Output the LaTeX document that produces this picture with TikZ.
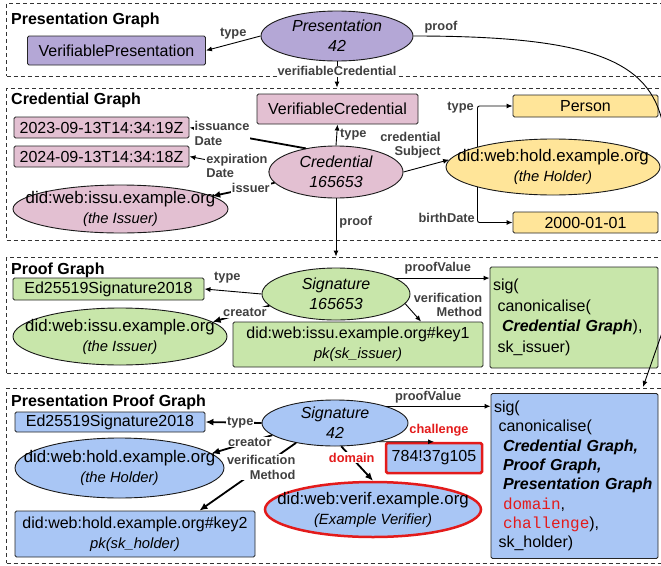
\documentclass[tikz,border=0pt]{standalone}
\usepackage{fontspec}
\setmainfont{Liberation Sans}
\setmonofont{Liberation Mono}
\usetikzlibrary{shapes.geometric, arrows.meta, positioning}

\definecolor{vpfill}{HTML}{B4A7D6}
\definecolor{credfill}{HTML}{E3C0D2}
\definecolor{holderfill}{HTML}{FFE599}
\definecolor{prooffill}{HTML}{C8E6AA}
\definecolor{ppfill}{HTML}{A9C6F5}
\definecolor{redcol}{HTML}{E31B1B}
\definecolor{lblgray}{HTML}{404040}

\newcommand\smallit[1]{{\fontsize{14.8}{17}\selectfont\itshape #1}}
\newcommand\bfit[1]{\textbf{\textit{#1}}}
\newcommand\redtt[1]{\textcolor{redcol}{\texttt{#1}}}
\newcommand\indsp{\hspace*{4.5pt}}

\begin{document}
\begin{tikzpicture}[
        x=1pt, y=-1pt,
        every node/.style={font=\fontsize{16}{20}\selectfont, align=center, inner sep=0pt},
        box/.style={rectangle, draw=black!85, rounded corners=1.5pt, line width=0.9pt},
        ell/.style={ellipse, draw=black!90, line width=0.9pt, inner xsep=-40pt, inner ysep=-8pt,
          font=\fontsize{16.8}{20}\selectfont},
        ital/.style={font=\fontsize{16}{20}\selectfont\itshape},
        graphframe/.style={draw=black!80, dash pattern=on 4pt off 3pt, line width=0.9pt},
        graphtitle/.style={font=\fontsize{16}{19}\selectfont\bfseries, anchor=base west},
        lbl/.style={font=\fontsize{12.8}{14.5}\selectfont\bfseries, text=lblgray},
        onl/.style={lbl, fill=white, inner sep=1pt},
        redlbl/.style={onl, text=redcol},
        conn/.style={->, line width=0.9pt},
        conn heavy/.style={-{Latex[length=8pt,width=7pt]}, line width=1.8pt},
        >={Latex[length=6pt,width=5pt]},
      ]
      \useasboundingbox (0,0) rectangle (661,565);

      \node[graphframe, minimum width=656, minimum height=73] (fpres) at (334.5,39.5) {};
      \node[graphframe, minimum width=656, minimum height=152] (fcred) at (334.5,164) {};
      \node[graphframe, minimum width=656, minimum height=116] (fproof) at (334.5,315) {};
      \node[graphframe, minimum width=656, minimum height=175] (fpp) at (334.5,475.5) {};

      \node[graphtitle] (tpres) at (11,24.5) {Presentation Graph};
      \node[graphtitle] (tcred) at (11,104.5) {Credential Graph};
      \node[graphtitle] (tproof) at (11,274.5) {Proof Graph};
      \node[graphtitle] (tpp) at (11,406.5) {Presentation Proof Graph};

      \node[ell, ital, fill=vpfill, minimum width=152, minimum height=50] (pres) at (337,36) {Presentation\\42};
      \node[box, fill=vpfill, minimum width=178, minimum height=29] (vp) at (116.5,50.5) {VerifiablePresentation};

      \node[box, fill=credfill, minimum width=161, minimum height=30] (vc) at (337.5,109) {VerifiableCredential};
      \node[ell, ital, fill=credfill, minimum width=134, minimum height=52] (cred) at (336,172) {Credential\\165653};
      \node[box, fill=credfill, minimum width=175, minimum height=21] (issdate) at (101.5,127.5) {2023-09-13T14:34:19Z};
      \node[box, fill=credfill, minimum width=175, minimum height=21] (expdate) at (101.5,156.5) {2024-09-13T14:34:18Z};
      \node[ell, fill=credfill, minimum width=215, minimum height=48] (issuer) at (120.5,209) {did:web:issu.example.org\\\smallit{(the Issuer)}};
      \node[ell, fill=holderfill, minimum width=214, minimum height=56] (holder) at (553,167) {did:web:hold.example.org\\\smallit{(the Holder)}};
      \node[box, fill=holderfill, minimum width=145, minimum height=22] (person) at (585.5,106) {Person};
      \node[box, fill=holderfill, minimum width=145, minimum height=21] (birth) at (585.5,222.5) {2000-01-01};

      \node[ell, ital, fill=prooffill, minimum width=148, minimum height=52] (sigcred) at (336,294) {Signature\\165653};
      \node[box, fill=prooffill, minimum width=191, minimum height=22] (typecred) at (108.5,289) {Ed25519Signature2018};
      \node[ell, fill=prooffill, minimum width=214, minimum height=57] (issuerp) at (120,336.5) {did:web:issu.example.org\\\smallit{(the Issuer)}};
      \node[box, fill=prooffill, minimum width=250, minimum height=45] (keyissuer) at (358,344.5) {did:web:issu.example.org\#key1\\\smallit{pk(sk\_issuer)}};
      \node[box, fill=prooffill, minimum width=168, minimum height=101, text width=162, align=left,
            font=\fontsize{16}{20.5}\selectfont] (valcred) at (574,317.5)
            {sig(\\\indsp canonicalise(\\\indsp\indsp\bfit{Credential Graph}),\\\indsp sk\_issuer)};

      \node[ell, ital, fill=ppfill, minimum width=146, minimum height=46] (sigpres) at (335,423) {Signature\\42};
      \node[box, fill=ppfill, minimum width=190, minimum height=20] (typepres) at (110,422) {Ed25519Signature2018};
      \node[ell, fill=ppfill, minimum width=209, minimum height=60] (holderp) at (119.5,468) {did:web:hold.example.org\\\smallit{(the Holder)}};
      \node[box, fill=ppfill, minimum width=240, minimum height=46] (keyholder) at (135,534) {did:web:hold.example.org\#key2\\\smallit{pk(sk\_holder)}};
      \node[ell, draw=redcol, line width=2.5pt, fill=ppfill, minimum width=216, minimum height=55] (verifier) at (373,509.5) {did:web:verif.example.org\\\smallit{(Example Verifier)}};
      \node[box, draw=redcol, line width=2.5pt, fill=ppfill, minimum width=96, minimum height=30] (chal) at (434,458) {784!37g105};
      \node[box, fill=ppfill, minimum width=167, minimum height=165, text width=161, align=left,
            font=\fontsize{16}{19.3}\selectfont] (valpres) at (574.5,476)
            {sig(\\\indsp canonicalise(\\\indsp\indsp\bfit{Credential Graph,}\\\indsp\indsp\bfit{Proof Graph,}\\\indsp\indsp\bfit{Presentation Graph}\\\indsp\indsp\redtt{domain},\\\indsp\indsp\redtt{challenge}),\\\indsp sk\_holder)};

      \coordinate (proofend) at (643,387);

      \draw[conn] (pres.west) -- (vp.east) node[lbl, pos=0.5, above=4pt] (ltypep) {type};
      \draw[conn] (pres.east) .. controls (590,36) and (650,60) .. (663,125) -- (663,330) -- (proofend);
      \node[lbl] (lproofp) at (441,27.5) {proof};
      \draw[conn] (pres.south) -- (pres.south |- fcred.north) node[onl, pos=0.38] (lvc) {verifiableCredential};

      \draw[conn] (cred.north) -- (vc.south) node[lbl, pos=0.5, right=3pt] (ltypec) {type};
      \draw[conn heavy] (cred.142) -- (issdate.east) node[onl, align=left, pos=0.72] (liss) {issuance\\Date};
      \draw[conn] (cred.west) -- (expdate.east) node[onl, align=left, pos=0.4] (lexp) {expiration\\Date};
      \draw[conn heavy] (cred.190) -- (issuer.8) node[onl, pos=0.38] (lissuer) {issuer};
      \draw[conn] (cred.east) -- (holder.176);
      \node[lbl, align=right] (lsubj) at (410.5,145) {credential\\Subject};
      \draw[conn, rounded corners=2] (holder.165) |- (person.west);
      \node[lbl, anchor=east] (ltypeh) at (474,107.5) {type};
      \draw[conn, rounded corners=2] (holder.195) |- (birth.west);
      \node[lbl, anchor=east] (lbirth) at (475,218) {birthDate};
      \draw[conn] (cred.south) -- (cred.south |- fproof.north) node[lbl, pos=0.4, right=3pt] (lproofc) {proof};

      \draw[conn] (sigcred.west) -- (typecred.east) node[lbl, pos=0.6, above=7pt] (ltypes) {type};
      \draw[conn heavy] (sigcred.190) -- (issuerp.9) node[onl, pos=0.43] (lcreat) {creator};
      \draw[conn] (sigcred.352) -- (keyissuer.20);
      \node[lbl, align=right] (lverif) at (448,305) {verification\\Method};
      \draw[conn] (sigcred.15) -- (sigcred.15 -| valcred.west) node[lbl, pos=0.45, above=3pt] (lval) {proofValue};

      \draw[conn heavy] (sigpres.west) -- (typepres.east) node[onl, pos=0.38] (ltypepp) {type};
      \draw[conn heavy] (sigpres.191) -- (holderp.9) node[onl, pos=0.37] (lcreatp) {creator};
      \draw[conn heavy] (sigpres.207) -- (keyholder.20) node[onl, align=right, pos=0.36] (lverifp) {verification\\Method};
      \draw[conn heavy] (sigpres.285) -- (verifier.north) node[redlbl, pos=0.33] (ldom) {domain};
      \draw[conn] (sigpres.337) -- (chal.north);
      \node[lbl, text=redcol] (lchal) at (439,430) {challenge};
      \draw[conn] (sigpres.18) -- (sigpres.18 -| valpres.west) node[lbl, pos=0.4, above=3pt] (lvalp) {proofValue};
      \end{tikzpicture}
\end{document}
